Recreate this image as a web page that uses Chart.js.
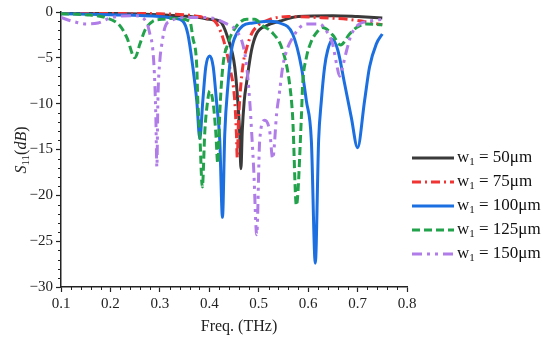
<!DOCTYPE html>
<html>
<head>
<meta charset="utf-8">
<script src="https://cdn.jsdelivr.net/npm/chart.js@4.4.0/dist/chart.umd.min.js"></script>
<style>
  html, body { margin: 0; padding: 0; background: #fff; }
</style>
</head>
<body>
<canvas id="chartS11" width="550" height="341"></canvas>
<script>
// ── Data ────────────────────────────────────────────────────
const legendLabels = ['50μm', '75μm', '100μm', '125μm', '150μm'];
const xTicks = [0.1, 0.2, 0.3, 0.4, 0.5, 0.6, 0.7, 0.8];
const yTicks = [0, -5, -10, -15, -20, -25, -30];

const fBlack = [0.10, 0.20, 0.30, 0.35, 0.38, 0.40, 0.4212, 0.4374, 0.4515, 0.4576, 0.4616, 0.4640, 0.4667, 0.4707, 0.4752, 0.4853, 0.4954, 0.5156, 0.5424, 0.58, 0.65, 0.70, 0.75];
const sBlack = [-0.1, -0.15, -0.3, -0.45, -0.6, -0.8, -1.0, -2.8, -6.0, -9.7, -13.3, -17.1, -13.0, -9.7, -7.8, -4.2, -2.4, -1.5, -1.0, -0.5, -0.4, -0.5, -0.65];

const fRed = [0.10, 0.20, 0.30, 0.35, 0.38, 0.40, 0.4111, 0.4273, 0.4414, 0.4515, 0.4549, 0.4566, 0.4590, 0.4630, 0.4690, 0.4758, 0.4853, 0.4980, 0.5222, 0.56, 0.62, 0.68, 0.72, 0.75];
const sRed = [-0.05, -0.1, -0.2, -0.3, -0.5, -0.8, -1.0, -2.8, -6.0, -9.7, -13.3, -15.9, -12.0, -8.5, -5.5, -3.9, -2.4, -1.5, -0.8, -0.5, -0.6, -0.8, -1.1, -1.4];

const fBlue = [0.10, 0.20, 0.30, 0.33, 0.3465, 0.3566, 0.3667, 0.3747, 0.3808, 0.3869, 0.3929, 0.4010, 0.4080, 0.4145, 0.4212, 0.4267, 0.4313, 0.4380, 0.4448, 0.4549, 0.4677, 0.4879, 0.5222, 0.5424, 0.5687, 0.5863, 0.5964, 0.6065, 0.6145, 0.6212, 0.6267, 0.6333, 0.6394, 0.6495, 0.6602, 0.6737, 0.6873, 0.7000, 0.7141, 0.7242, 0.7378, 0.75];
const sBlue = [-0.2, -0.3, -0.5, -0.7, -1.0, -2.4, -6.0, -9.7, -13.8, -9.7, -6.0, -4.8, -6.0, -9.7, -14.0, -22.4, -13.3, -7.8, -4.2, -2.4, -1.5, -1.2, -1.0, -1.2, -2.4, -6.0, -9.7, -14.0, -27.4, -14.0, -9.7, -6.0, -4.2, -3.0, -4.2, -7.8, -11.5, -14.8, -9.7, -6.0, -3.5, -2.4];

const fGreen = [0.10, 0.15, 0.1889, 0.2192, 0.2333, 0.2495, 0.2596, 0.2697, 0.2859, 0.304, 0.3303, 0.3606, 0.3667, 0.3747, 0.3768, 0.3808, 0.3859, 0.3910, 0.3960, 0.4010, 0.4080, 0.4130, 0.4172, 0.4212, 0.4273, 0.4374, 0.4556, 0.4758, 0.4920, 0.5080, 0.5283, 0.5485, 0.5626, 0.5687, 0.5762, 0.5863, 0.5889, 0.5964, 0.6065, 0.6192, 0.6293, 0.6495, 0.6657, 0.6838, 0.698, 0.7182, 0.75];
const sGreen = [-0.2, -0.3, -0.6, -1.5, -2.8, -5.0, -3.5, -2.0, -1.0, -0.8, -0.7, -1.0, -2.8, -6.0, -9.7, -13.3, -19.1, -13.0, -10.0, -8.6, -10.0, -13.0, -16.5, -11.0, -6.0, -3.5, -1.5, -0.8, -0.8, -1.5, -2.3, -4.2, -7.9, -11.5, -21.1, -11.5, -7.9, -5.0, -3.2, -2.1, -1.7, -2.5, -3.6, -2.4, -1.7, -1.3, -1.4];

const fPurple = [0.10, 0.1222, 0.1525, 0.1747, 0.203, 0.2495, 0.2737, 0.2798, 0.2859, 0.2899, 0.2919, 0.2940, 0.2960, 0.3000, 0.3040, 0.3101, 0.3202, 0.3600, 0.3950, 0.4354, 0.4556, 0.4677, 0.4758, 0.4818, 0.4859, 0.4900, 0.4960, 0.5020, 0.5121, 0.5222, 0.5283, 0.5364, 0.5424, 0.5485, 0.5586, 0.5687, 0.5828, 0.5970, 0.6232, 0.6374, 0.6495, 0.6576, 0.6636, 0.6697, 0.6778, 0.6879, 0.7040, 0.7242, 0.75];
const sPurple = [-0.6, -1.0, -1.3, -1.2, -0.6, -0.4, -1.2, -2.4, -4.2, -7.9, -11.5, -16.9, -9.7, -5.3, -3.5, -1.7, -1.0, -0.6, -0.6, -1.3, -2.1, -3.5, -6.0, -9.7, -13.3, -17.3, -24.3, -14.0, -11.8, -13.0, -16.0, -11.0, -8.6, -6.0, -3.9, -2.8, -1.7, -1.3, -1.3, -2.1, -3.5, -5.7, -7.0, -6.0, -4.2, -2.4, -1.3, -1.0, -0.8];

// ── Styles ──────────────────────────────────────────────────
const serif = '"Liberation Serif", "DejaVu Serif", serif';
const series = [
    { f: fBlack,  s: sBlack,  color: '#3a3a3a', dash: [] },
    { f: fRed,    s: sRed,    color: '#f03434', dash: [9, 4, 2, 4] },
    { f: fBlue,   s: sBlue,   color: '#1b6fe0', dash: [] },
    { f: fGreen,  s: sGreen,  color: '#23a24c', dash: [8, 4] },
    { f: fPurple, s: sPurple, color: '#b07de8', dash: [10, 5, 3, 5, 3, 5] },
];

const toPoints = (f, s) => f.map((v, i) => ({ x: v, y: s[i] }));
const minus = v => String(v).replace('-', '\u2212');

// ── Extra drawing: minor ticks, axis titles, legend ─────────
const extras = {
    id: 'extras',
    afterDraw(chart) {
        const { ctx, chartArea: a, scales: { x, y } } = chart;
        ctx.save();

        // minor ticks
        ctx.strokeStyle = '#222';
        ctx.lineWidth = 1;
        ctx.beginPath();
        for (let v = -30; v <= 0; v++) {
            if (v % 5 === 0) continue;
            const py = Math.round(y.getPixelForValue(v)) + 0.5;
            ctx.moveTo(a.left - 3, py);
            ctx.lineTo(a.left, py);
        }
        for (let i = 0; i <= 35; i++) {
            if (i % 5 === 0) continue;
            const px = Math.round(x.getPixelForValue(0.1 + i * 0.02)) + 0.5;
            ctx.moveTo(px, a.bottom);
            ctx.lineTo(px, a.bottom + 3);
        }
        ctx.stroke();

        ctx.fillStyle = '#222';
        ctx.textBaseline = 'middle';

        // x title
        ctx.font = '16px ' + serif;
        ctx.textAlign = 'center';
        ctx.fillText('Freq. (THz)', (a.left + a.right) / 2 + 5, 327);

        // y title: S11(dB), rotated
        ctx.save();
        ctx.translate(22, 150);
        ctx.rotate(-Math.PI / 2);
        ctx.textAlign = 'left';
        const parts = [
            { t: 'S',  font: 'italic 16px ' + serif, dy: 0 },
            { t: '11', font: '11px ' + serif, dy: 4 },
            { t: '(',  font: '16px ' + serif, dy: 0 },
            { t: 'dB', font: 'italic 16px ' + serif, dy: 0 },
            { t: ')',  font: '16px ' + serif, dy: 0 },
        ];
        let total = 0;
        parts.forEach(p => { ctx.font = p.font; p.w = ctx.measureText(p.t).width; total += p.w; });
        let cx = -total / 2;
        parts.forEach(p => { ctx.font = p.font; ctx.fillText(p.t, cx, p.dy); cx += p.w; });
        ctx.restore();

        // legend
        const lx0 = a.right + 5, lx1 = a.right + 47, tx = a.right + 50;
        series.forEach((sr, i) => {
            const ly = 158 + i * 24;
            ctx.strokeStyle = sr.color;
            ctx.lineWidth = 3;
            ctx.setLineDash(sr.dash);
            ctx.beginPath();
            ctx.moveTo(lx0, ly);
            ctx.lineTo(lx1, ly);
            ctx.stroke();
            ctx.setLineDash([]);

            ctx.fillStyle = '#111';
            ctx.textAlign = 'left';
            let px = tx;
            ctx.font = '17px ' + serif;
            ctx.fillText('w', px, ly);
            px += ctx.measureText('w').width;
            ctx.font = '11px ' + serif;
            ctx.fillText('1', px, ly + 4);
            px += ctx.measureText('1').width;
            ctx.font = '17px ' + serif;
            ctx.fillText(' = ' + legendLabels[i], px, ly);
        });

        ctx.restore();
    },
};

// ── Chart ───────────────────────────────────────────────────
new Chart(document.getElementById('chartS11').getContext('2d'), {
    type: 'line',
    data: {
        datasets: series.map((sr, i) => ({
            label: 'w1 = ' + legendLabels[i],
            data: toPoints(sr.f, sr.s),
            borderColor: sr.color,
            borderDash: sr.dash,
            borderWidth: 3,
            pointRadius: 0,
            fill: false,
            cubicInterpolationMode: 'monotone',
            order: 4 - i,
        })),
    },
    options: {
        responsive: false,
        animation: false,
        layout: { padding: { top: 11, right: 143, bottom: 0, left: 0 } },
        plugins: {
            legend: { display: false },
            tooltip: { enabled: false },
        },
        scales: {
            x: {
                type: 'linear',
                min: 0.1,
                max: 0.8,
                afterBuildTicks: s => { s.ticks = xTicks.map(v => ({ value: v })); },
                afterFit: s => { s.height = 54; },
                ticks: {
                    callback: v => v.toFixed(1),
                    font: { family: serif, size: 15 },
                    color: '#222',
                    padding: 3,
                    maxRotation: 0,
                },
                grid: { drawOnChartArea: false, tickLength: 5, tickColor: '#222', tickWidth: 1.2 },
                border: { color: '#222', width: 1.5 },
            },
            y: {
                min: -30,
                max: 0,
                afterBuildTicks: s => { s.ticks = yTicks.map(v => ({ value: v })); },
                afterFit: s => { s.width = 61; },
                ticks: {
                    callback: v => minus(v),
                    font: { family: serif, size: 15 },
                    color: '#222',
                    padding: 3,
                },
                grid: { drawOnChartArea: false, tickLength: 5, tickColor: '#222', tickWidth: 1.2 },
                border: { color: '#222', width: 1.5 },
            },
        },
    },
    plugins: [extras],
});
</script>
</body>
</html>
